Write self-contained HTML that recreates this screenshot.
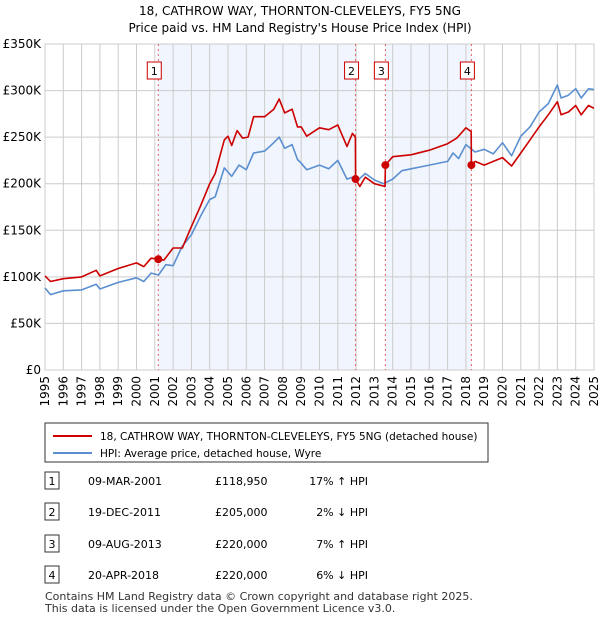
<!DOCTYPE html>
<html><head><meta charset="utf-8"><style>
body{margin:0;background:#fff;font-family:"Liberation Sans","DejaVu Sans",sans-serif;}
svg text{font-family:"DejaVu Sans","Liberation Sans",sans-serif;}
</style></head><body>
<svg id="c" width="600" height="620" xmlns="http://www.w3.org/2000/svg">
<text x="300" y="15" text-anchor="middle" font-size="12">18, CATHROW WAY, THORNTON-CLEVELEYS, FY5 5NG</text>
<text x="300" y="32" text-anchor="middle" font-size="12">Price paid vs. HM Land Registry's House Price Index (HPI)</text>
<g id="plot"></g>
<rect x="45" y="423" width="443" height="39" fill="#fff" stroke="#333"/>
<line x1="53" y1="436" x2="92" y2="436" stroke="#cc0000" stroke-width="2"/>
<text x="100" y="440" font-size="10.5">18, CATHROW WAY, THORNTON-CLEVELEYS, FY5 5NG (detached house)</text>
<line x1="53" y1="453" x2="92" y2="453" stroke="#5b8fd0" stroke-width="2"/>
<text x="100" y="457" font-size="10.5">HPI: Average price, detached house, Wyre</text>
<g id="tbl" font-size="11"></g>
<text x="45" y="600" font-size="11" fill="#333">Contains HM Land Registry data © Crown copyright and database right 2025.</text>
<text x="45" y="612" font-size="11" fill="#333">This data is licensed under the Open Government Licence v3.0.</text>
</svg>
<script>
const hpiT=[1995,1995.3,1996,1997,1997.8,1998,1999,2000,2000.4,2000.8,2001.2,2001.6,2002,2002.5,2003,2003.5,2004,2004.3,2004.8,2005.2,2005.6,2006,2006.4,2007,2007.5,2007.8,2008.1,2008.5,2008.8,2009,2009.3,2010,2010.5,2011,2011.5,2011.8,2012,2012.5,2013,2013.5,2014,2014.5,2015,2016,2017,2017.3,2017.6,2018,2018.5,2019,2019.5,2020,2020.5,2021,2021.5,2022,2022.5,2023,2023.2,2023.6,2024,2024.3,2024.7,2025];
const hpiV=[88,81,85,86,92,87,94,99,95,104,102,113,112,133,145,165,183,186,217,208,220,215,233,235,244,250,238,242,226,222,215,220,216,225,205,207,202,211,204,200,205,214,216,220,224,233,227,242,234,237,232,244,230,251,261,277,286,306,292,295,302,292,302,301];
const priceT=[1995,1995.3,1996,1997,1997.8,1998,1999,2000,2000.4,2000.8,2001.19,2001.5,2002,2002.5,2003,2003.5,2004,2004.3,2004.8,2005,2005.2,2005.5,2005.8,2006.1,2006.4,2007,2007.5,2007.8,2008.1,2008.5,2008.8,2009,2009.3,2010,2010.5,2011,2011.5,2011.8,2011.96,2011.97,2012.2,2012.5,2013,2013.58,2013.6,2014,2015,2016,2017,2017.5,2018,2018.29,2018.3,2018.5,2019,2019.5,2020,2020.5,2021,2021.5,2022,2022.5,2023,2023.2,2023.6,2024,2024.3,2024.7,2025];
const priceV=[101,95,98,100,107,101,109,115,111,120,118.95,118,131,131,154,176,200,211,247,251,241,257,249,250,272,272,280,291,276,280,261,261,251,260,258,263,240,254,250,205,197,207,200,197,220,229,231,236,243,249,260,256,220,224,220,224,228,219,233,247,261,274,288,274,277,284,274,284,281];
const saleT=[2001.19,2011.97,2013.6,2018.3];
const saleV=[118.95,205,220,220];
const saleLabels=["1","2","3","4"];
const saleDates=["09-MAR-2001","19-DEC-2011","09-AUG-2013","20-APR-2018"];
const salePrices=["£118,950","£205,000","£220,000","£220,000"];
const saleDiffs=["17% ↑ HPI","2% ↓ HPI","7% ↑ HPI","6% ↓ HPI"];
const yTicks=[0,50,100,150,200,250,300,350];
const yTickLabels=["£0","£50K","£100K","£150K","£200K","£250K","£300K","£350K"];
const xYears=[1995,1996,1997,1998,1999,2000,2001,2002,2003,2004,2005,2006,2007,2008,2009,2010,2011,2012,2013,2014,2015,2016,2017,2018,2019,2020,2021,2022,2023,2024,2025];

const NS="http://www.w3.org/2000/svg";
const X0=45,X1=594,Y0=370,Y1=44;
const sx=t=>X0+(t-1995)/30*(X1-X0);
const sy=v=>Y0-v/350*(Y0-Y1);
const g=document.getElementById('plot');
function mk(tag,attrs,parent){const e=document.createElementNS(NS,tag);for(const k in attrs)e.setAttribute(k,attrs[k]);(parent||g).appendChild(e);return e;}
const sh1=mk('rect',{x:sx(saleT[0]),y:Y1,width:sx(saleT[1])-sx(saleT[0]),height:Y0-Y1,fill:'#eef3fc',opacity:0.8});


const sh2=mk('rect',{x:sx(saleT[2]),y:Y1,width:sx(saleT[3])-sx(saleT[2]),height:Y0-Y1,fill:'#eef3fc',opacity:0.8});


yTicks.forEach((v,i)=>{
 const l=mk('line',{x1:X0,x2:X1,y1:sy(v),y2:sy(v),stroke:'#cccccc'});
 
 
 const t=mk('text',{x:X0-4,y:sy(v)+4,'text-anchor':'end','font-size':12});
 t.textContent=yTickLabels[i];
 
 
});
xYears.forEach(yr=>{
 const l=mk('line',{x1:sx(yr),x2:sx(yr),y1:Y1,y2:Y0,stroke:'#cccccc'});
 
 
 const t=mk('text',{x:0,y:0,'text-anchor':'end','font-size':12,transform:`translate(${sx(yr)+4},${Y0+6}) rotate(-90)`});
 t.textContent=yr;
 
 
});
const fr=mk('rect',{x:X0,y:Y1,width:X1-X0,height:Y0-Y1,fill:'none',stroke:'#cccccc'});


saleT.forEach((t,i)=>{
 const l=mk('line',{x1:sx(t),x2:sx(t),y1:Y1,y2:Y0,stroke:'#e06060','stroke-dasharray':'2,3'});
 
 
});
function path(T,V,col,name){
 const d=T.map((t,i)=>(i?'L':'M')+sx(t).toFixed(1)+','+sy(V[i]).toFixed(1)).join('');
 const p=mk('path',{d:d,fill:'none',stroke:col,'stroke-width':1.6,'stroke-linejoin':'round'});
 
 
}
path(hpiT,hpiV,'#5b8fd0','hpi-line');
path(priceT,priceV,'#cc0000','price-line');
saleT.forEach((t,i)=>{
 const c=mk('circle',{cx:sx(t),cy:sy(saleV[i]),r:4,fill:'#cc0000'});
 
 
 const bx=mk('rect',{x:sx(t)-11,y:62,width:14,height:17,fill:'#fff',stroke:'#cc0000'});
 
 
 const tx=mk('text',{x:sx(t)-4,y:75,'text-anchor':'middle','font-size':11});
 tx.textContent=saleLabels[i];
 
 
});
const tb=document.getElementById('tbl');
const rowY=[481,512,544,575];
saleLabels.forEach((s,i)=>{
 const y=rowY[i];
 const b=mk('rect',{x:45,y:y-9,width:14,height:17,fill:'#fff',stroke:'#333'},tb);
 
 
 const cells=[[52,s,'middle'],[88,saleDates[i],'start'],[215,salePrices[i],'start'],[368,saleDiffs[i],'end']];
 cells.forEach(c=>{
  const t=mk('text',{x:c[0],y:y+4,'text-anchor':c[2]},tb);
  t.textContent=c[1];
  
  
 });
});
</script>
</body></html>
